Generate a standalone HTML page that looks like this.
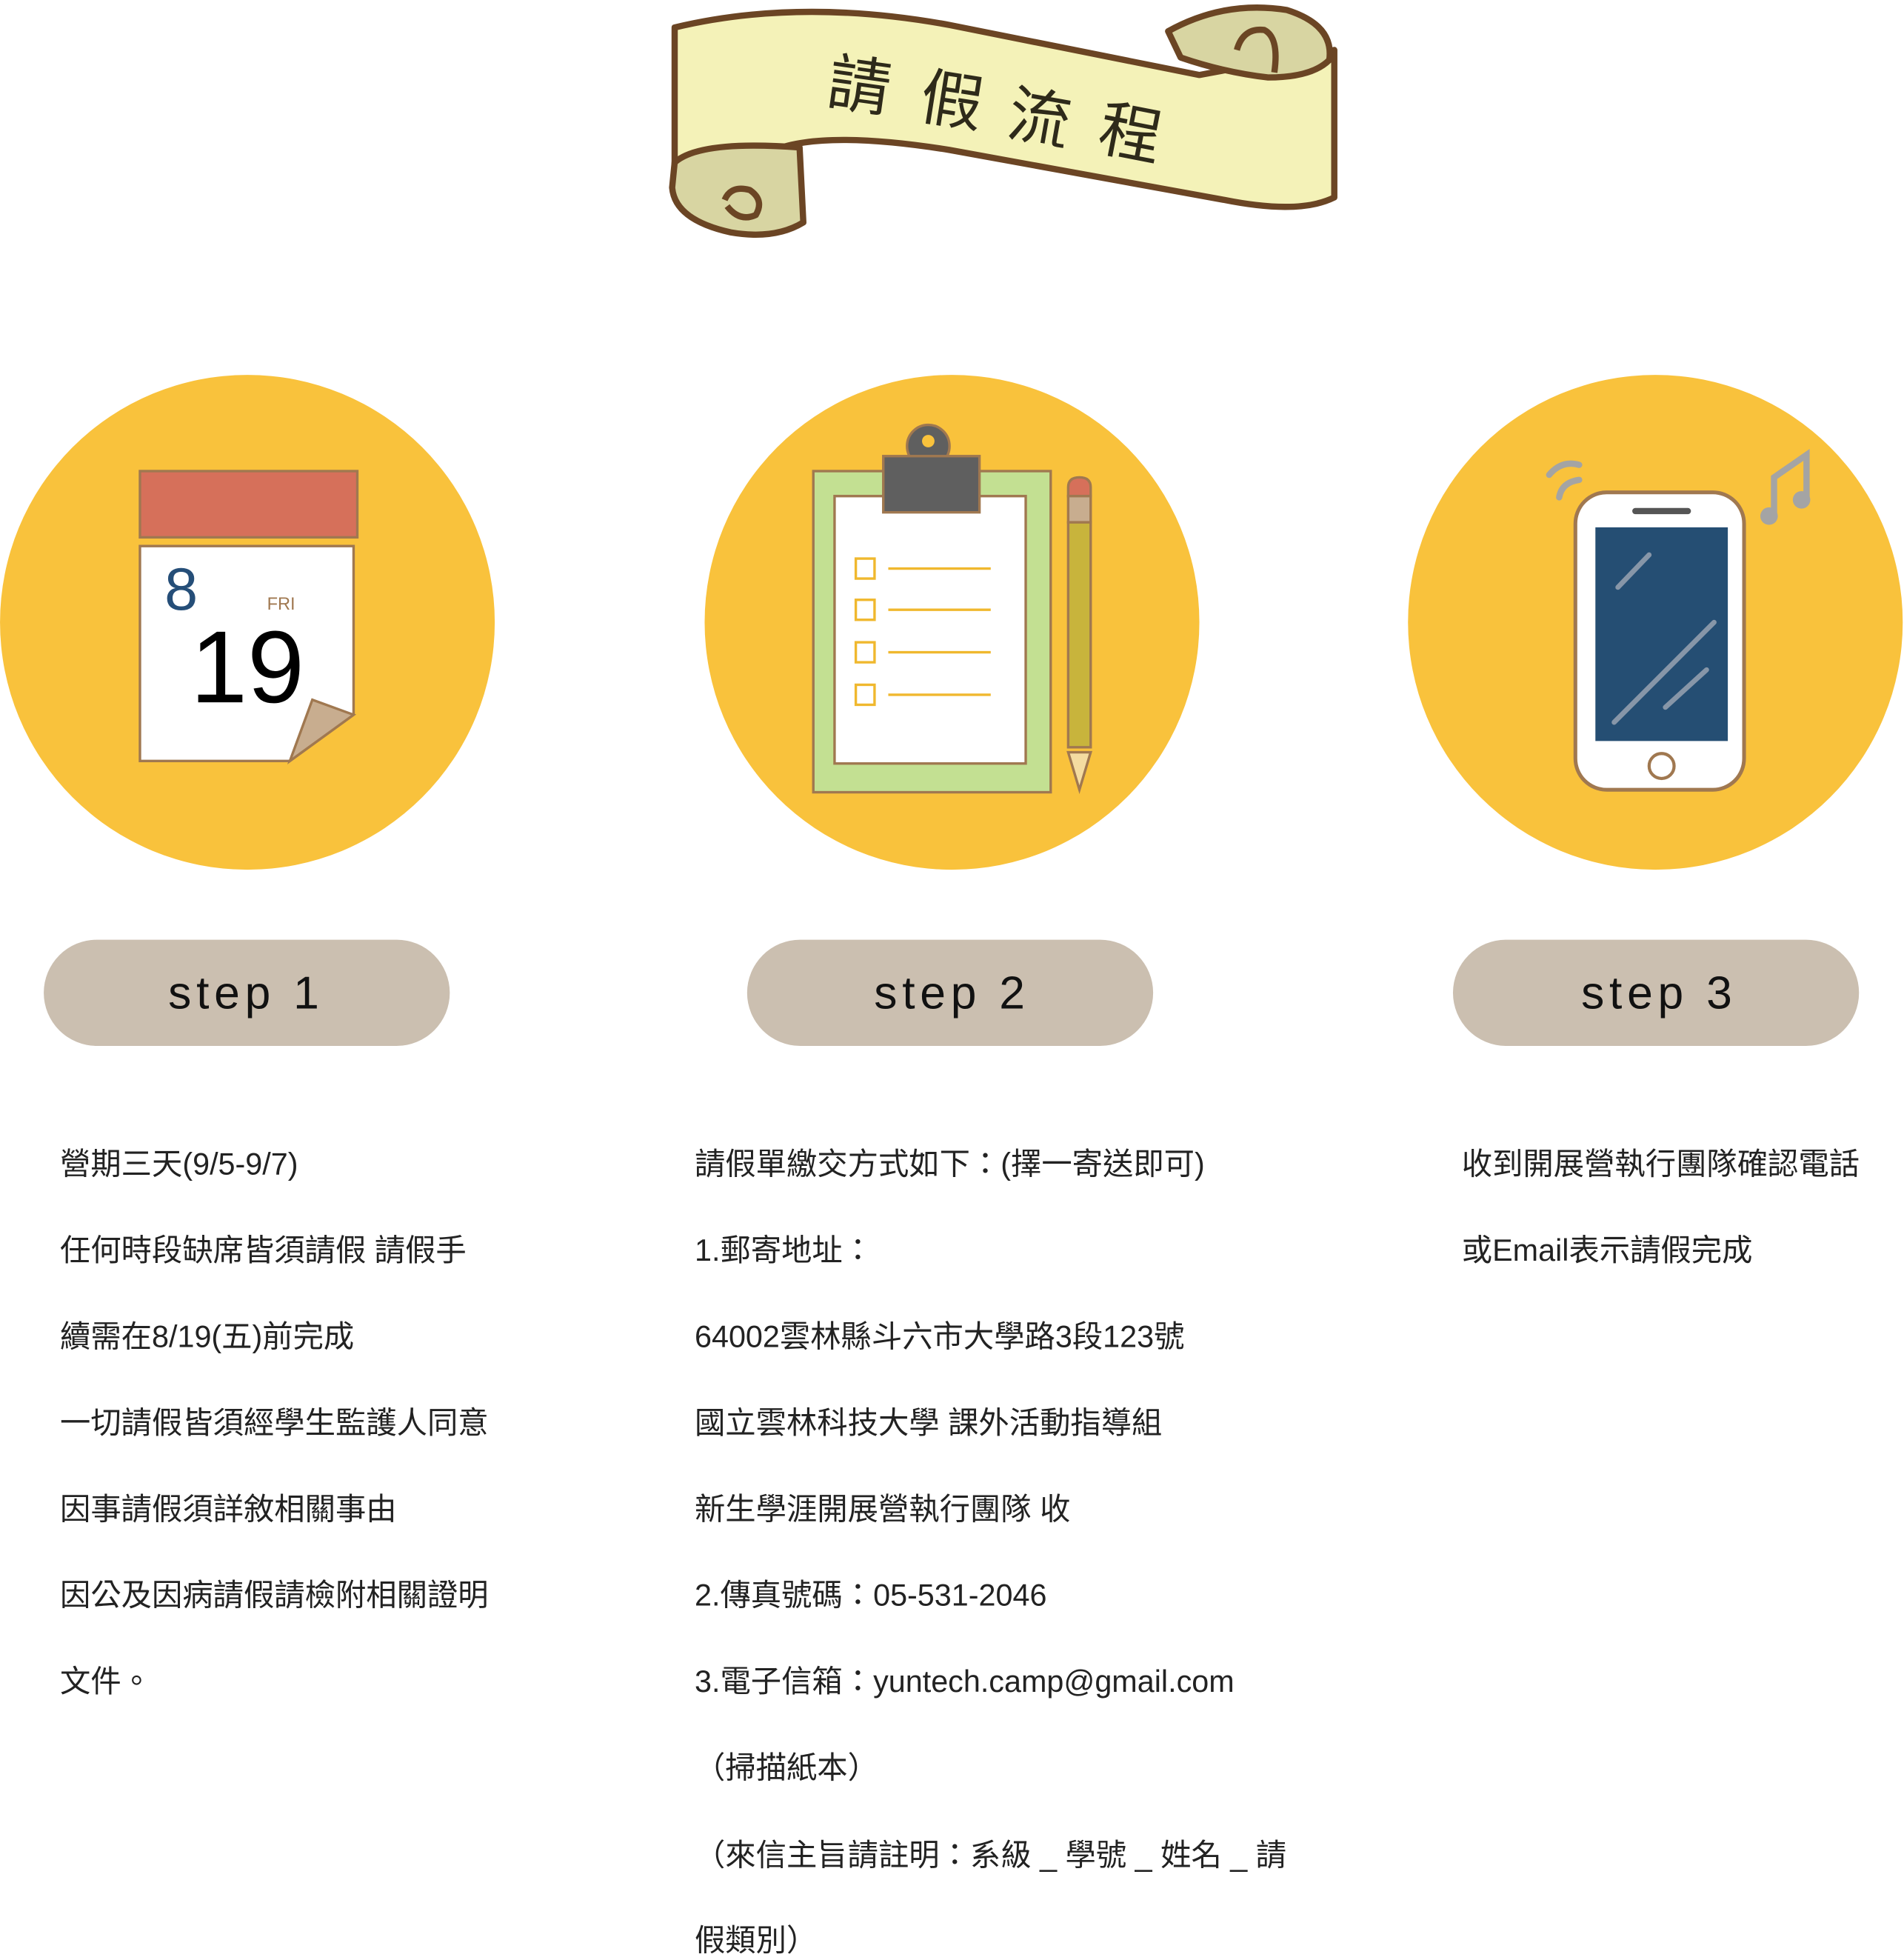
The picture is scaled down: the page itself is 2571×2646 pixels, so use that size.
<!DOCTYPE html>
<html><head><meta charset="utf-8"><style>
html,body{margin:0;padding:0;background:#fff;}
svg{display:block;}
text{font-family:"Liberation Sans","Noto Sans CJK TC",sans-serif;}
</style></head><body>
<svg width="2571" height="2646" viewBox="0 0 1524 1568.5" xmlns="http://www.w3.org/2000/svg">
<g stroke="#6b4524" stroke-width="5" stroke-linejoin="round">
  <path d="M540,22 Q640,-2 760,20 Q860,40 960,60 L1068,40 L1068,158 Q1040,172 980,160 Q860,138 760,120 Q660,104 620,120 L540,140 Z" fill="#f4f2b8"/>
  <path d="M935,25 Q980,0 1030,8 Q1068,20 1064,48 Q1050,62 1015,62 Q980,58 945,46 Z" fill="#d8d5a2"/>
  <path d="M990,40 Q995,22 1012,24 Q1024,30 1020,58" fill="none"/>
  <path d="M540,130 Q560,112 640,118 L643,178 Q620,192 585,186 Q540,176 538,150 Z" fill="#d8d5a2"/>
  <path d="M580,160 Q585,148 600,152 Q612,160 605,172 Q592,178 582,165" fill="none"/>
</g>
<g font-size="50" fill="#2e2a1a">
  <text x="688" y="86" text-anchor="middle" transform="rotate(8 688 68)">請</text>
  <text x="762" y="98" text-anchor="middle" transform="rotate(9 762 80)">假</text>
  <text x="832" y="112" text-anchor="middle" transform="rotate(10 832 95)">流</text>
  <text x="905" y="124" text-anchor="middle" transform="rotate(11 905 106)">程</text>
</g>

<circle cx="198" cy="498" r="198" fill="#f9c23c"/>
<circle cx="762" cy="498" r="198" fill="#f9c23c"/>
<circle cx="1325" cy="498" r="198" fill="#f9c23c"/>

<g stroke="#a07850" stroke-width="2">
  <rect x="112" y="377" width="174" height="53" fill="#d6705a"/>
  <polygon points="112,437 283,437 283,572 232,609 112,609" fill="#fff"/>
  <polygon points="232,609 283,572 250,560" fill="#c8ad8f"/>
  <text x="145" y="488" font-size="48" fill="#254e78" stroke="none" text-anchor="middle">8</text>
  <text x="225" y="488" font-size="14" fill="#a07850" stroke="none" text-anchor="middle">FRI</text>
  <text x="198" y="562" font-size="82" fill="#000" stroke="none" text-anchor="middle">19</text>
</g>

<g stroke="#a07850" stroke-width="2">
  <rect x="651" y="377" width="190" height="257" fill="#c3e092"/>
  <rect x="668" y="397" width="153" height="214" fill="#fff"/>
  <circle cx="743" cy="357" r="17" fill="#5f5f5f"/>
  <rect x="707" y="365" width="77" height="45" fill="#5f5f5f"/>
  <circle cx="743" cy="353" r="5" fill="#f9c23c" stroke="none"/>
  <g stroke="#f0b82e" stroke-width="2" fill="none">
    <rect x="685" y="447" width="15" height="16"/><line x1="711" y1="455" x2="793" y2="455"/>
    <rect x="685" y="480" width="15" height="16"/><line x1="711" y1="488" x2="793" y2="488"/>
    <rect x="685" y="514" width="15" height="16"/><line x1="711" y1="522" x2="793" y2="522"/>
    <rect x="685" y="548" width="15" height="16"/><line x1="711" y1="556" x2="793" y2="556"/>
  </g>
  <path d="M855,390 Q855,382 864,382 Q873,382 873,390 L873,397 L855,397 Z" fill="#d6705a"/>
  <rect x="855" y="397" width="18" height="21" fill="#c8ad8f"/>
  <rect x="855" y="418" width="18" height="180" fill="#c8b43c"/>
  <polygon points="855,602 873,602 864,632" fill="#f4dca0"/>
</g>

<g>
  <rect x="1261" y="394" width="135" height="238" rx="25" fill="#fff" stroke="#a07850" stroke-width="3"/>
  <rect x="1277" y="422" width="106" height="171" fill="#254e73"/>
  <line x1="1309" y1="409" x2="1351" y2="409" stroke="#555" stroke-width="5" stroke-linecap="round"/>
  <circle cx="1330" cy="613" r="10" fill="#fff" stroke="#a07850" stroke-width="2.5"/>
  <g stroke="#8796a8" stroke-width="4" stroke-linecap="round">
    <line x1="1295" y1="470" x2="1320" y2="444"/>
    <line x1="1292" y1="578" x2="1372" y2="498"/>
    <line x1="1333" y1="566" x2="1366" y2="536"/>
  </g>
  <g stroke="#a4a4a4" stroke-width="5" fill="none" stroke-linecap="round">
    <path d="M1240,380 Q1250,368 1264,372"/>
    <path d="M1248,398 Q1250,386 1264,384"/>
    <path d="M1420,410 L1420,382 L1446,364 L1446,400"/>
  </g>
  <circle cx="1416" cy="413" r="7" fill="#a4a4a4"/>
  <circle cx="1442" cy="400" r="7" fill="#a4a4a4"/>
</g>

<g font-size="37" fill="#111" text-anchor="middle" letter-spacing="4">
  <rect x="35" y="752" width="325" height="85" rx="42.5" fill="#cbbfb0"/>
  <text x="197" y="807">step 1</text>
  <rect x="598" y="752" width="325" height="85" rx="42.5" fill="#cbbfb0"/>
  <text x="762" y="807">step 2</text>
  <rect x="1163" y="752" width="325" height="85" rx="42.5" fill="#cbbfb0"/>
  <text x="1328" y="807">step 3</text>
</g>

<g font-size="24.5" fill="#222">
  <text x="48" y="940">營期三天(9/5-9/7)</text>
  <text x="48" y="1009">任何時段缺席皆須請假 請假手</text>
  <text x="48" y="1078">續需在8/19(五)前完成</text>
  <text x="48" y="1147">一切請假皆須經學生監護人同意</text>
  <text x="48" y="1216">因事請假須詳敘相關事由</text>
  <text x="48" y="1285">因公及因病請假請檢附相關證明</text>
  <text x="48" y="1354">文件。</text>
</g>
<g font-size="24.5" fill="#222">
  <text x="556" y="940">請假單繳交方式如下：(擇一寄送即可)</text>
  <text x="556" y="1009">1.郵寄地址：</text>
  <text x="556" y="1078">64002雲林縣斗六市大學路3段123號</text>
  <text x="556" y="1147">國立雲林科技大學 課外活動指導組</text>
  <text x="556" y="1216">新生學涯開展營執行團隊 收</text>
  <text x="556" y="1285">2.傳真號碼：05-531-2046</text>
  <text x="556" y="1354">3.電子信箱：yuntech.camp@gmail.com</text>
  <text x="556" y="1423">（掃描紙本）</text>
  <text x="556" y="1493">（來信主旨請註明：系級 _ 學號 _ 姓名 _ 請</text>
  <text x="556" y="1561">假類別）</text>
</g>
<g font-size="24.5" fill="#222">
  <text x="1170" y="940">收到開展營執行團隊確認電話</text>
  <text x="1170" y="1009">或Email表示請假完成</text>
</g>
</svg>
</body></html>
